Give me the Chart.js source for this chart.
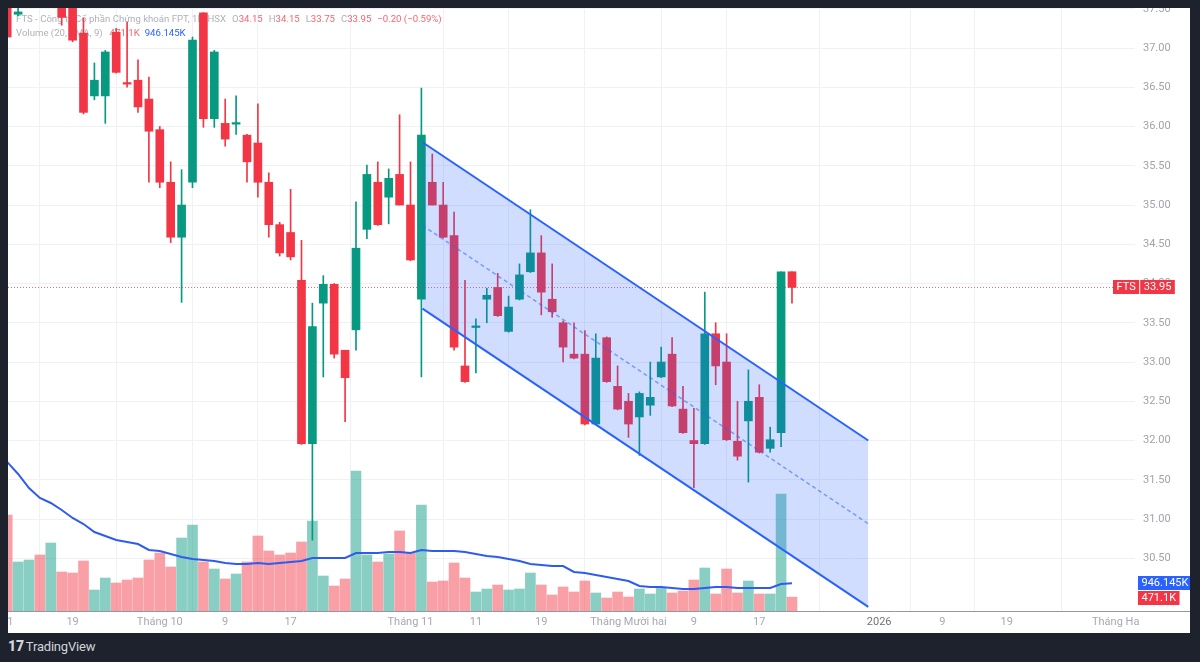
<!DOCTYPE html>
<html>
<head>
<meta charset="utf-8">
<script src="https://cdn.jsdelivr.net/npm/chart.js@4.4.1/dist/chart.umd.min.js"></script>
<style>
  html, body { margin: 0; padding: 0; background: #1e222d; }
  body { width: 1200px; height: 662px; position: relative; overflow: hidden; font-family: Roboto, "Noto Sans", sans-serif; }
  #wrap { position: absolute; left: 8px; top: 8px; width: 1182px; height: 625px; background: #fff; overflow: hidden; }
  #brand { position: absolute; left: 8px; top: 638px; color: #d1d4dc; font-size: 13px; letter-spacing: -0.2px; }
  #brand b { font-weight: 900; font-size: 14px; margin-right: 2px; }
</style>
</head>
<body>
<div id="wrap"><canvas id="chart" width="1182" height="625"></canvas></div>
<div id="brand"><b>17</b>TradingView</div>
<script>
// daily candles, index 0 = 11 Sep 2025 ... 72 = 22 Dec 2025
const opens  = [37.80,37.43,37.70,38.20,37.80,38.00,37.90,37.19,36.39,36.39,37.20,36.56,36.59,36.35,35.96,35.29,34.59,35.29,37.45,36.10,
                36.04,36.03,35.89,35.79,35.29,34.75,34.65,34.04,31.96,33.75,33.99,33.15,33.41,34.69,35.29,35.10,35.39,35.00,33.80,35.29,
                35.00,34.61,32.95,33.44,33.80,33.95,33.39,33.80,34.15,34.39,33.80,33.50,33.10,33.10,32.21,33.31,32.69,32.50,32.30,32.45,
                32.81,33.10,32.40,32.00,31.96,33.36,33.00,31.99,32.25,32.55,31.90,32.10,34.15];
const highs  = [38.00,37.60,38.10,38.40,38.30,38.20,37.95,37.38,36.81,36.97,37.25,37.33,36.85,36.63,36.00,35.55,35.45,37.14,37.45,36.97,
                36.35,36.39,35.90,36.29,35.41,34.78,35.20,34.55,33.75,34.10,34.00,33.15,35.04,35.51,35.55,35.46,36.15,35.55,36.49,35.65,
                35.29,34.91,34.04,33.55,33.94,34.13,33.84,34.25,34.94,34.61,34.25,33.52,33.50,33.40,33.36,33.32,32.95,32.60,32.62,33.00,
                33.19,33.31,32.69,32.41,33.89,33.50,33.36,32.50,32.90,32.71,32.17,34.15,34.15];
const lows   = [37.12,37.41,37.60,37.75,37.60,37.29,37.08,36.16,36.34,36.04,36.68,36.50,36.18,35.29,35.22,34.52,33.76,35.22,35.99,35.99,
                35.75,35.90,35.29,35.10,34.59,34.35,34.30,31.95,30.73,32.81,33.05,32.24,33.15,34.57,34.74,34.76,35.00,34.29,32.81,35.00,
                34.58,33.15,32.74,32.86,33.50,33.58,33.38,33.79,34.14,33.60,33.57,33.00,33.04,32.20,32.20,32.74,32.39,32.04,31.81,32.32,
                32.80,32.43,32.09,31.40,31.95,32.71,32.00,31.75,31.47,31.84,31.85,31.92,33.75];
const closes = [37.14,37.46,38.00,37.90,38.10,37.39,37.10,36.18,36.59,36.95,36.69,36.54,36.25,35.94,35.29,34.59,35.00,37.10,36.10,36.95,
                35.84,36.05,35.55,35.29,34.75,34.39,34.34,31.96,33.45,33.99,33.10,32.80,34.45,35.39,34.75,35.34,35.00,34.30,35.89,35.00,
                34.59,33.19,32.75,33.46,33.85,33.59,33.70,34.11,34.39,33.89,33.64,33.19,33.05,32.21,33.05,32.75,32.40,32.21,32.60,32.55,
                33.00,32.44,32.10,31.96,33.36,32.95,32.01,31.80,32.50,31.85,32.01,34.15,33.95];
// volume in thousands of shares
const volumes = [3264,1666,1734,1904,2312,1326,1292,1700,714,1122,952,1054,1122,1734,1972,1496,2482,2924,1666,1428,
                 1088,1258,1666,2550,2040,1904,1972,2346,3060,1190,850,1088,4760,1904,1666,1938,2720,1972,3604,986,
                 1020,1632,1122,646,748,884,714,748,1292,884,544,816,646,1020,612,442,646,476,748,578,
                 782,612,680,1054,1462,578,1428,612,1020,578,578,3978,471.1];
const volumeMa = [5066,4658,4182,3842,3672,3434,3162,2958,2686,2550,2414,2346,2278,2074,2040,1938,1836,1768,1734,1700,
                  1632,1598,1598,1632,1598,1632,1666,1700,1802,1802,1802,1802,1972,1972,1972,2006,2006,1972,2074,2040,
                  2040,2040,2006,1938,1870,1836,1768,1700,1598,1564,1530,1530,1326,1292,1224,1156,1088,1020,850,816,
                  816,782,748,748,782,816,816,782,782,782,782,918,946.145];

// time axis labels (bar index, future bars continue past the last candle)
const xTickPos    = [0, 6, 14, 20, 26, 37, 43, 49, 57, 63, 69, 80, 85.8, 91.7, 101.7];
const xTickLabels = ['11', '19', 'Tháng 10', '9', '17', 'Tháng 11', '11', '19', 'Tháng Mười hai', '9', '17', '2026', '9', '19', 'Tháng Ha'];
const priceTicks  = [30.5, 31, 31.5, 32, 32.5, 33, 33.5, 34, 34.5, 35, 35.5, 36, 36.5, 37, 37.5];

// parallel channel drawing
const channelX     = [38.1, 79];
const channelUpper = [35.80, 32.00];
const channelMid   = [34.74, 30.94];
const channelLower = [33.68, 29.88];

const UP = '#089981', DOWN = '#f23645';
const isUp = i => closes[i] >= opens[i];
const idx = closes.map((_, i) => i);

const pts = (xs, ys) => xs.map((x, i) => ({x: x, y: ys[i]}));

const overlay = {
  id: 'overlay',
  beforeDatasetsDraw(chart) {
    const {ctx, chartArea: a, scales: {y}} = chart;
    const n = closes.length - 1;
    ctx.save();
    // last price line
    const py = Math.round(y.getPixelForValue(closes[n])) + 0.5;
    ctx.strokeStyle = 'rgba(242,54,69,0.75)';
    ctx.lineWidth = 1;
    ctx.setLineDash([1, 2]);
    ctx.beginPath(); ctx.moveTo(a.left, py); ctx.lineTo(a.right, py); ctx.stroke();
    ctx.setLineDash([]);

    // legend
    const gray = '#aeb1b9', red = 'rgba(242,54,69,0.78)', blue = '#2962ff';
    const chg = closes[n] - closes[n - 1];
    const pct = chg / closes[n - 1] * 100;
    const sgn = v => (v < 0 ? '\u2212' : '+') + Math.abs(v).toFixed(2);
    const line1 = [
      ['FTS - Công ty Cổ phần Chứng khoán FPT, 1D, HSX', gray, 0],
      ['O', gray, 6], [opens[n].toFixed(2), red, 0],
      ['H', gray, 6], [highs[n].toFixed(2), red, 0],
      ['L', gray, 6], [lows[n].toFixed(2), red, 0],
      ['C', gray, 6], [closes[n].toFixed(2), red, 0],
      [sgn(chg) + ' (' + sgn(pct) + '%)', red, 6]
    ];
    const line2 = [
      ['Volume (20, SMA, 9)', gray, 0],
      [(volumes[n]).toFixed(1) + 'K', red, 7],
      [volumeMa[n].toFixed(3) + 'K', blue, 5]
    ];
    ctx.font = '9.6px Roboto, "Noto Sans", sans-serif';
    ctx.textBaseline = 'middle';
    ctx.textAlign = 'left';
    [[line1, 12], [line2, 26]].forEach(([segs, ty]) => {
      let tx = 8;
      segs.forEach(([t, c, gap]) => {
        tx += gap;
        ctx.fillStyle = c;
        ctx.fillText(t, tx, ty);
        tx += ctx.measureText(t).width;
      });
    });
    ctx.restore();
  },
  afterDraw(chart) {
    const {ctx, chartArea: a, scales: {y, v}} = chart;
    const n = closes.length - 1;
    ctx.save();
    // time axis line
    ctx.strokeStyle = '#9598a1';
    ctx.lineWidth = 1;
    ctx.beginPath(); ctx.moveTo(0, a.bottom + 0.5); ctx.lineTo(chart.width, a.bottom + 0.5); ctx.stroke();

    ctx.font = '11px Roboto, "Noto Sans", sans-serif';
    ctx.textBaseline = 'middle';
    ctx.textAlign = 'left';
    const box = (text, x, cy, bg) => {
      const bw = ctx.measureText(text).width + 7;
      ctx.fillStyle = bg;
      ctx.fillRect(x, Math.round(cy) - 7, bw, 14);
      ctx.fillStyle = '#fff';
      ctx.fillText(text, x + 3.5, Math.round(cy) + 0.5);
      return bw;
    };
    // last price label
    const py = y.getPixelForValue(closes[n]);
    const w1 = box('FTS', a.right - 22, py, DOWN);
    ctx.fillStyle = 'rgba(255,255,255,0.35)';
    ctx.fillRect(a.right - 22 + w1, Math.round(py) - 7, 1, 14);
    box(closes[n].toFixed(2), a.right - 22 + w1 + 1, py, DOWN);
    // volume labels
    box(volumeMa[n].toFixed(3) + 'K', a.right + 3, v.getPixelForValue(volumeMa[n]), '#2962ff');
    box(volumes[n].toFixed(1) + 'K', a.right + 3, v.getPixelForValue(volumes[n]) + 1, DOWN);
    ctx.restore();
  }
};

new Chart(document.getElementById('chart'), {
  data: {
    datasets: [
      {
        type: 'line', label: 'upper', order: 0,
        data: pts(channelX, channelUpper),
        borderColor: '#2962ff', borderWidth: 2, pointRadius: 0,
        fill: {target: 2}, backgroundColor: 'rgba(41,98,255,0.22)', clip: 0
      },
      {
        type: 'line', label: 'mid', order: 0,
        data: pts(channelX, channelMid),
        borderColor: 'rgba(41,98,255,0.55)', borderWidth: 1.5, borderDash: [4, 3], pointRadius: 0, fill: false, clip: 0
      },
      {
        type: 'line', label: 'lower', order: 0,
        data: pts(channelX, channelLower),
        borderColor: '#2962ff', borderWidth: 2, pointRadius: 0, fill: false, clip: 0
      },
      {
        type: 'bar', label: 'wick', order: 2, grouped: false,
        data: idx.map(i => ({x: i, y: [lows[i], highs[i]]})),
        backgroundColor: idx.map(i => isUp(i) ? UP : DOWN),
        barThickness: 1, clip: 0
      },
      {
        type: 'bar', label: 'body', order: 2, grouped: false,
        data: idx.map(i => ({x: i, y: [opens[i], closes[i]]})),
        backgroundColor: idx.map(i => isUp(i) ? UP : DOWN),
        barThickness: 8, minBarLength: 1, clip: 0
      },
      {
        type: 'line', label: 'Volume MA', order: 1, yAxisID: 'v',
        data: idx.map(i => ({x: i, y: volumeMa[i]})),
        borderColor: '#2f5cf0', borderWidth: 2, pointRadius: 0, tension: 0, fill: false, clip: 0
      },
      {
        type: 'bar', label: 'Volume', order: 3, yAxisID: 'v', grouped: false,
        data: idx.map(i => ({x: i, y: volumes[i]})),
        backgroundColor: idx.map(i => isUp(i) ? 'rgba(8,153,129,0.48)' : 'rgba(242,54,69,0.48)'),
        barThickness: 10, clip: 0
      }
    ]
  },
  options: {
    responsive: false,
    animation: false,
    events: [],
    layout: {padding: 0},
    plugins: {legend: {display: false}, tooltip: {enabled: false}},
    scales: {
      x: {
        type: 'linear', min: 0.0734, max: 103.47, offset: false,
        grid: {color: '#f0f1f4', drawTicks: false},
        border: {display: false},
        afterBuildTicks: s => { s.ticks = xTickPos.map(p => ({value: p})); },
        afterFit: s => { s.height = 22; s.paddingLeft = 0; s.paddingRight = 0; },
        ticks: {
          autoSkip: false, maxRotation: 0, padding: 5,
          font: {family: 'Roboto, "Noto Sans", sans-serif', size: 11},
          color: c => xTickLabels[c.index] === '2026' ? '#6f727c' : '#a6a9b1',
          callback: (val, i) => xTickLabels[i]
        }
      },
      y: {
        type: 'linear', position: 'right', min: 29.828, max: 37.51,
        grid: {color: '#f0f1f4', drawTicks: false},
        border: {display: false},
        afterBuildTicks: s => { s.ticks = priceTicks.map(p => ({value: p})); },
        afterFit: s => { s.width = 55; s.paddingTop = 0; s.paddingBottom = 0; },
        ticks: {
          padding: 8,
          font: {family: 'Roboto, "Noto Sans", sans-serif', size: 11},
          color: '#a0a3ab',
          callback: v => Number(v).toFixed(2)
        }
      },
      v: {
        type: 'linear', display: false, min: 0, max: 20502
      }
    }
  },
  plugins: [overlay]
});
</script>
</body>
</html>
